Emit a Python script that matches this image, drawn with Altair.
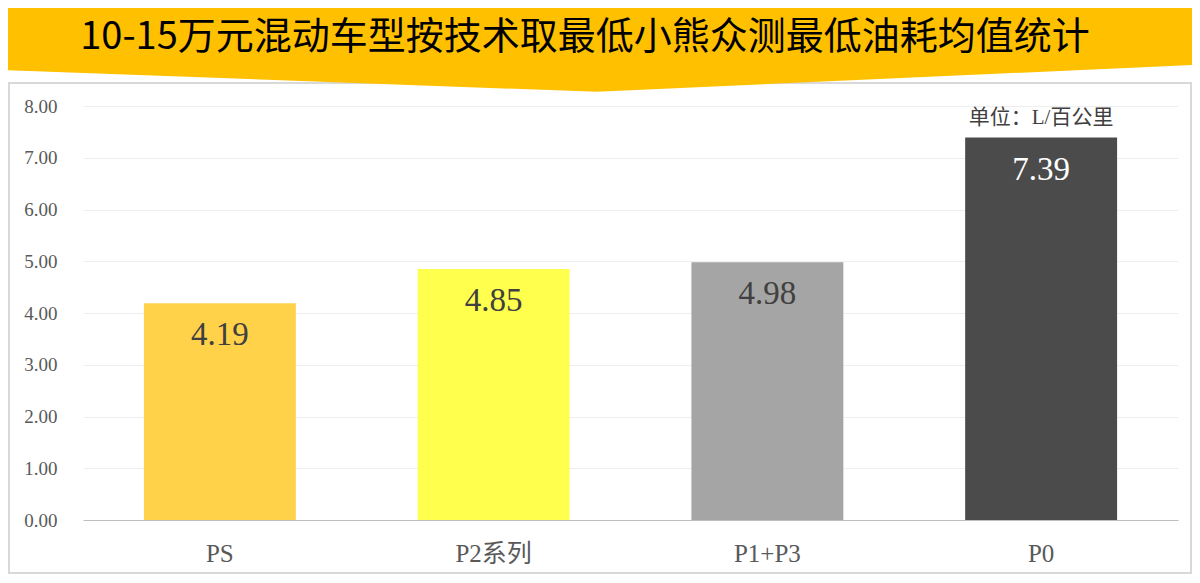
import altair as alt
import pandas as pd

# dados
tecnologias = ["PS", "P2系列", "P1+P3", "P0"]
consumo = [4.19, 4.85, 4.98, 7.39]
cores_barras = ["#FFD24A", "#FFFF4D", "#A5A5A5", "#4B4B4B"]
ticks_y = [0, 1, 2, 3, 4, 5, 6, 7, 8]
titulo = "10-15万元混动车型按技术取最低小熊众测最低油耗均值统计"
unidade = "单位：L/百公里"

fonte = "Liberation Serif, Noto Sans CJK SC"
fonte_titulo = "Noto Sans CJK SC"
cor_texto = "#595959"

df = pd.DataFrame({"tech": tecnologias, "valor": consumo})
um = pd.DataFrame({"k": [0]})

x = alt.X("tech:N", sort=tecnologias,
          scale=alt.Scale(paddingInner=0.445, paddingOuter=0.2225),
          axis=alt.Axis(title=None, labelAngle=0, ticks=False, domainColor="#bfbfbf",
                        labelFont=fonte, labelFontSize=25, labelColor=cor_texto, labelPadding=21))
y = alt.Y("valor:Q", scale=alt.Scale(domain=[0, 8], nice=False),
          axis=alt.Axis(title=None, values=ticks_y, format=".2f", ticks=False, domain=False,
                        gridColor="#eeeeee", labelFont=fonte, labelFontSize=19,
                        labelColor=cor_texto, labelPadding=26))

# moldura cinza do painel (sem preenchimento, para nao tapar os eixos)
moldura = alt.Chart(um).mark_rect(fillOpacity=0, stroke="#d9d9d9", strokeWidth=2).encode(
    x=alt.value(-74), x2=alt.value(1108), y=alt.value(-23), y2=alt.value(467)
)

# faixa amarela com ponta em V
faixa = alt.Chart(um).mark_point(
    shape="M-0.992,-0.03 L0.992,-0.03 L0.992,0.108 L-0.005,0.153 L-0.992,0.117 Z",
    filled=True, fill="#FFC000", opacity=1, strokeWidth=0, size=1440000
).encode(x=alt.value(517), y=alt.value(-106))

texto_titulo = alt.Chart(um).mark_text(
    font=fonte_titulo, fontSize=38, color="#000000", align="center", baseline="middle"
).encode(x=alt.value(502), y=alt.value(-68), text=alt.value(titulo))

barras = alt.Chart(df).mark_bar().encode(
    x=x, y=y,
    color=alt.Color("tech:N", scale=alt.Scale(domain=tecnologias, range=cores_barras), legend=None)
)

rotulos = alt.Chart(df).mark_text(baseline="middle", dy=32, font=fonte, fontSize=33).encode(
    x=alt.X("tech:N", sort=tecnologias),
    y="valor:Q",
    text=alt.Text("valor:Q", format=".2f"),
    color=alt.condition(alt.datum.tech == "P0", alt.value("white"), alt.value("#404040"))
)

texto_unidade = alt.Chart(df).transform_filter(alt.datum.tech == "P0").mark_text(
    baseline="middle", dy=-20, font=fonte, fontSize=21, color="#404040"
).encode(x=alt.X("tech:N", sort=tecnologias), y="valor:Q", text=alt.value(unidade))

chart = alt.layer(moldura, faixa, texto_titulo, barras, rotulos, texto_unidade).properties(
    width=1095,
    height=414,
    padding={"left": 75, "top": 98, "right": 14, "bottom": 55},
    autosize=alt.AutoSizeParams(type="none"),
    background="white"
).configure_view(
    stroke=None
)

chart.save("out.html", embed_options={"renderer": "svg", "actions": False})
